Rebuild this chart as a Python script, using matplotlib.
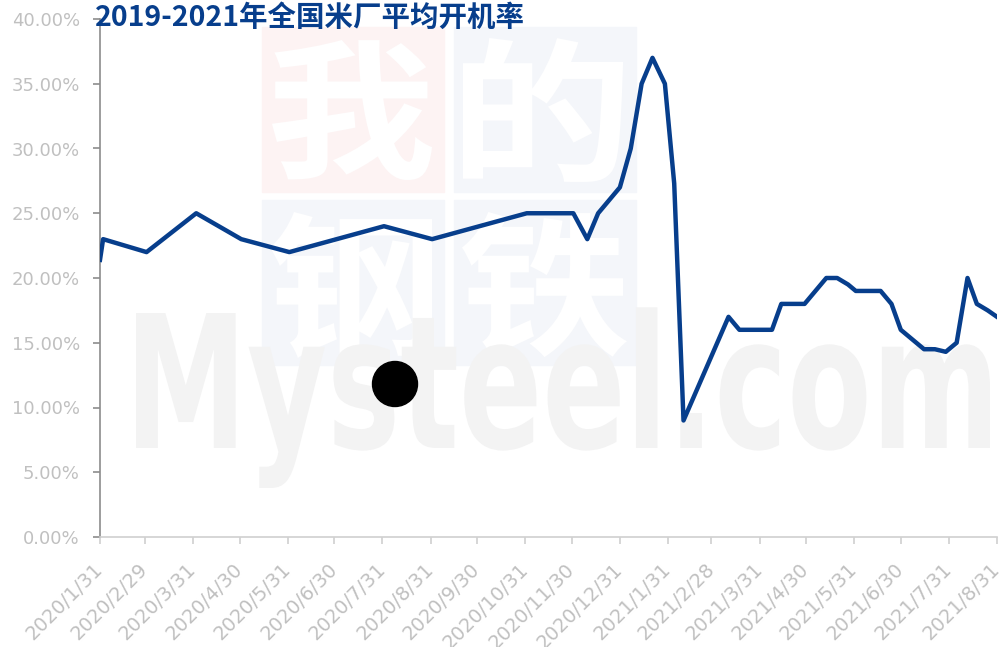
import matplotlib
matplotlib.use("Agg")
import matplotlib.pyplot as plt
from matplotlib.patches import Rectangle, Ellipse, PathPatch
from matplotlib.textpath import TextPath
from matplotlib.font_manager import FontProperties
from matplotlib.transforms import Affine2D
import pandas as pd

plt.rcParams['font.family'] = ['Noto Sans CJK SC', 'DejaVu Sans']

# 2020-2021 rice mill average operating rate (%)
dates = ["2020-01-31", "2020-02-02", "2020-03-01", "2020-04-02", "2020-05-01",
         "2020-06-01", "2020-08-01", "2020-09-01", "2020-11-01", "2020-12-01",
         "2020-12-10", "2020-12-17", "2020-12-31", "2021-01-07", "2021-01-14",
         "2021-01-21", "2021-01-29", "2021-02-04", "2021-02-10", "2021-03-11",
         "2021-03-18", "2021-04-08", "2021-04-14", "2021-04-29", "2021-05-13",
         "2021-05-20", "2021-05-27", "2021-06-01", "2021-06-17", "2021-06-24",
         "2021-06-30", "2021-07-15", "2021-07-22", "2021-07-29", "2021-08-05",
         "2021-08-12", "2021-08-18", "2021-08-25", "2021-08-31"]
rate = [21.4, 23.0, 22.0, 25.0, 23.0,
        22.0, 24.0, 23.0, 25.0, 25.0,
        23.0, 25.0, 27.0, 30.0, 35.0,
        37.0, 35.0, 27.3, 9.0, 17.0,
        16.0, 16.0, 18.0, 18.0, 20.0,
        20.0, 19.5, 19.0, 19.0, 18.0,
        16.0, 14.5, 14.5, 14.3, 15.0,
        20.0, 18.0, 17.5, 17.0]
title = "2019-2021年全国米厂平均开机率"
y_ticks = [0, 5, 10, 15, 20, 25, 30, 35, 40]

W, H = 1006, 647
fig = plt.figure(figsize=(W / 100, H / 100), dpi=100)
ax = fig.add_axes([100 / W, 1 - 537 / H, 897 / W, 518 / H])
ax.patch.set_alpha(0)


# ---- watermark, placed in pixel coords (y measured from top) ----
def px_rect(x0, y0, x1, y1, color):
    fig.patches.append(Rectangle((x0 / W, 1 - y1 / H), (x1 - x0) / W, (y1 - y0) / H,
                                 transform=fig.transFigure, color=color, zorder=-3))


def fit_text(s, x0, y0, x1, y1, prop, color, ref=None):
    # stretch the glyph outline so its ink (or ref's ink height) fills the box
    tp = TextPath((0, 0), s, prop=prop, size=100)
    bb = tp.get_extents()
    rb = TextPath((0, 0), ref, prop=prop, size=100).get_extents() if ref else bb
    sx = (x1 - x0) / bb.width
    sy = (y1 - y0) / rb.height
    tr = (Affine2D().translate(-bb.x0, -rb.y0).scale(sx / W, sy / H)
          .translate(x0 / W, 1 - y1 / H))
    fig.patches.append(PathPatch(tr.transform_path(tp), transform=fig.transFigure,
                                 facecolor=color, edgecolor="none", zorder=-2))


px_rect(262, 27, 444, 192, "#fdf3f3")
px_rect(454, 27, 636, 192, "#f4f6fa")
px_rect(262, 200, 444, 365, "#f4f6fa")
px_rect(454, 200, 636, 365, "#f4f6fa")
cjk = FontProperties(family="Noto Sans CJK SC", weight="bold")
fit_text("我", 272, 40, 432, 180, cjk, "white")
fit_text("的", 463, 38, 623, 182, cjk, "white")
fit_text("钢", 270, 212, 432, 358, cjk, "white")
fit_text("铁", 462, 212, 627, 358, cjk, "white")

fp = FontProperties(family="DejaVu Sans", weight="bold")
fit_text("Mysteel.com", 136, 313, 990, 448, fp, "#f3f3f3", ref="M")

# ---- data line ----
x = pd.to_datetime(dates)
ax.plot(x, rate, color="#073e8c", lw=3.2, solid_joinstyle="round", zorder=3)

ax.set_xlim(pd.Timestamp("2020-01-31"), pd.Timestamp("2021-08-31"))
ax.set_ylim(0, 40)
ax.set_yticks(y_ticks)
ax.set_yticklabels([f"{v:.2f}%" for v in y_ticks], family="DejaVu Sans")

month_ends = pd.date_range("2020-01-31", "2021-08-31", freq="ME")
ax.set_xticks(month_ends)
ax.set_xticklabels([f"{d.year}/{d.month}/{d.day}" for d in month_ends],
                   rotation=45, ha="right", va="center", rotation_mode="anchor",
                   family="DejaVu Sans")

for s in ["top", "right"]:
    ax.spines[s].set_visible(False)
ax.spines["left"].set_color("#8c8c8c")
ax.spines["bottom"].set_color("#d0d0d0")
ax.spines["left"].set_linewidth(1.2)
ax.spines["bottom"].set_linewidth(1.2)
ax.tick_params(axis="y", colors="#8c8c8c", labelcolor="#c0c0c0", labelsize=13,
               length=5, width=1.2, pad=9.5)
ax.tick_params(axis="x", colors="#d0d0d0", labelcolor="#c0c0c0", labelsize=14,
               length=5, width=1.2, pad=16)

fig.text(95 / W, 1 - 18 / H, title, color="#073e8c", fontsize=20.5, fontweight="bold",
         ha="left", va="center", zorder=5)

fig.patches.append(Ellipse((395 / W, 1 - 384 / H), 45 / W, 45 / H,
                           transform=fig.transFigure, color="black", zorder=10))

fig.savefig("out.png", dpi=100)
